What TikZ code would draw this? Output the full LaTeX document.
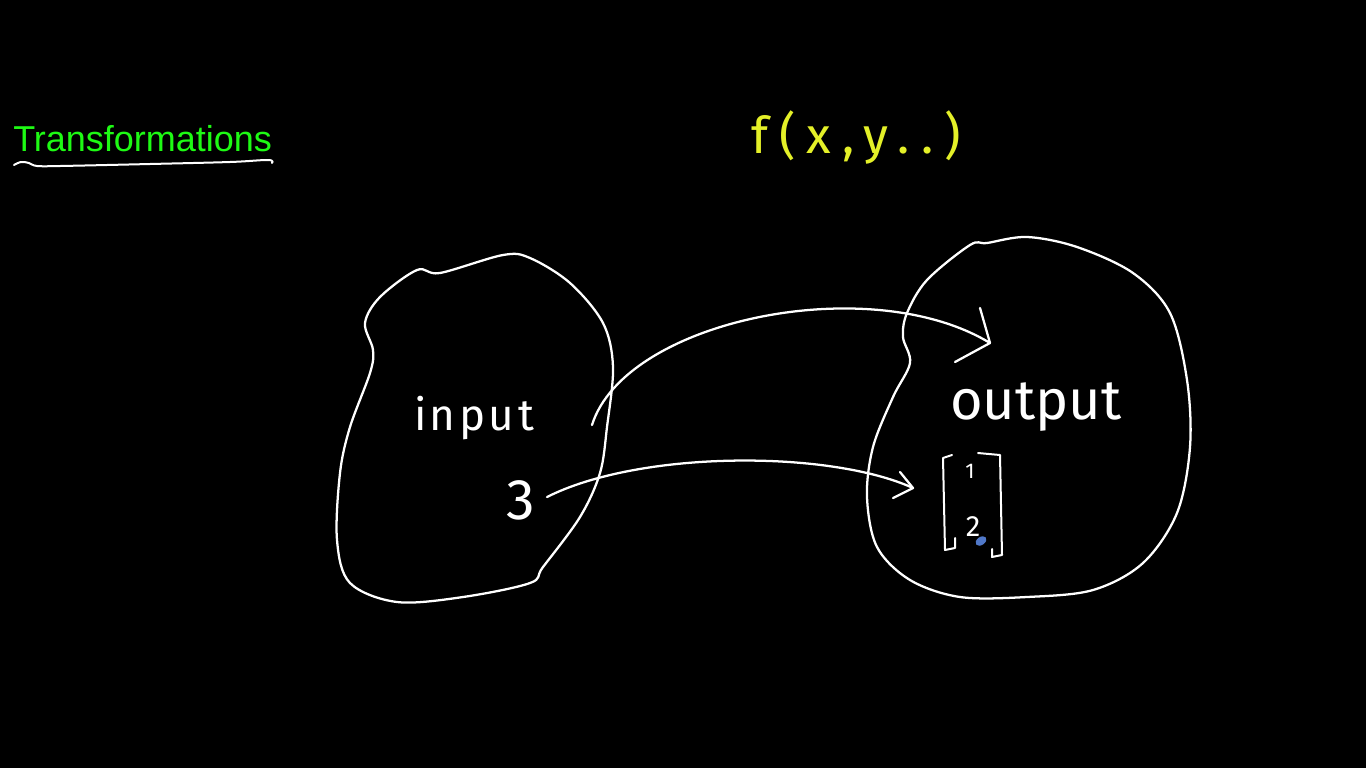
\documentclass[tikz,border=0pt]{standalone}
\usepackage{fontspec}
\setmainfont{Liberation Sans}
\newfontfamily\handfont[LetterSpace=8]{Fira Sans}
\newfontfamily\plainhand{Fira Sans}
\newfontfamily\funcfont[LetterSpace=22]{Fira Sans}
\usetikzlibrary{calc}
\definecolor{titlegreen}{RGB}{30,250,20}
\definecolor{penyellow}{RGB}{228,240,40}
\definecolor{cursorblue}{RGB}{80,120,200}
\tikzset{
  ink/.style={draw=white, line width=1.7pt, line cap=round, line join=round},
  handtext/.style={text=white, inner sep=0pt},
}
\begin{document}
\begin{tikzpicture}[x=0.75pt, y=-0.75pt]
\fill[black] (0,0) rectangle (1366,768);
\useasboundingbox (0,0) rectangle (1366,768);

% title
\node[text=titlegreen, anchor=base west, inner sep=0pt, font=\fontsize{27pt}{30pt}\selectfont] (title) at (13,151) {Transformations};
\draw[ink, line width=1.5pt] plot[smooth, tension=0.6] coordinates {(14,165) (21,162) (29,163) (37,166) (60,166) (150,164) (230,162) (268,160) (272,163)};

% function
\node[text=penyellow, inner sep=0pt, font=\funcfont\fontsize{38pt}{42pt}\selectfont] (func) at (856,137) {f(x,y..)};

% input blob
\draw[ink] plot[smooth cycle, tension=0.55] coordinates {
 (503,255) (440,273) (417,270) (380,297) (365,323) (373,350) (370,373)
 (350,427) (340,473) (337,540) (350,583) (397,602) (463,597) (530,583)
 (543,567) (580,517) (600,473) (607,427) (613,367) (603,323) (570,283) (530,258)};

% output blob
\draw[ink] plot[smooth cycle, tension=0.55] coordinates {
 (970,245) (927,280) (907,313) (903,337) (910,363) (893,397) (873,447)
 (867,497) (877,547) (910,580) (960,597) (1027,597) (1093,590) (1143,563)
 (1177,513) (1190,447) (1187,380) (1170,313) (1133,273) (1077,247)
 (1027,237) (987,243)};

% texts
\node[handtext, font=\handfont\fontsize{33pt}{38pt}\selectfont] (input) at (474,418) {input};
\node[handtext, font=\handfont\fontsize{43pt}{48pt}\selectfont] (three) at (521,500) {3};
\node[handtext, font=\plainhand\fontsize{42pt}{48pt}\selectfont] (output) at (1036,407) {output};

% column vector
\node[minimum width=45pt, minimum height=75pt, inner sep=0pt] (vec) at (972,505) {};
\node[handtext, font=\handfont\fontsize{16pt}{18pt}\selectfont] (one) at (970,471) {1};
\node[handtext, font=\handfont\fontsize{22pt}{24pt}\selectfont] (two) at (973,527) {2};
\draw[ink, line width=1.5pt] (952,455) -- (943,458) -- (945,550) -- (955,548) -- (955,538);
\draw[ink, line width=1.5pt] (978,453) -- (1000,455) -- (1002,555) -- (992,557) -- (992,549);
\fill[cursorblue, rotate around={35:(981,541)}] (981,541) ellipse [x radius=6, y radius=4];

% arrow 1: input -> output
\coordinate (a1s) at (592,425);
\coordinate (a1e) at (990,343);
\draw[ink] (a1s) .. controls (625,320) and (870,270) .. (a1e);
\draw[ink] ($(a1e)+(-10,-35)$) -- (a1e) -- ($(a1e)+(-35,19)$);

% arrow 2: 3 -> vector
\coordinate (a2s) at (547,497);
\coordinate (a2e) at (913,488);
\draw[ink] (a2s) .. controls (640,450) and (830,450) .. (a2e);
\draw[ink] ($(a2e)+(-13,-16)$) -- (a2e) -- ($(a2e)+(-20,10)$);
\end{tikzpicture}
\end{document}
